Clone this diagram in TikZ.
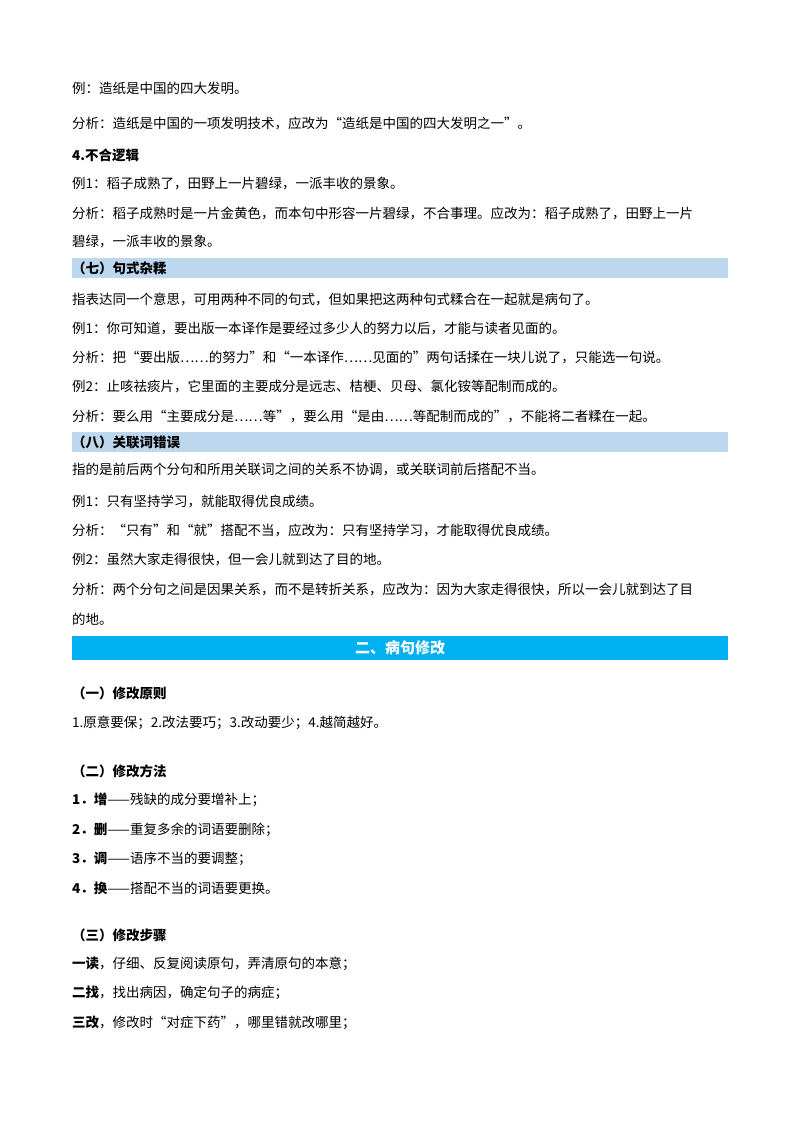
\documentclass[tikz,border=0pt]{standalone}
\usepackage{fontspec}
\setmainfont{Noto Sans CJK SC}
\begin{document}
\begin{tikzpicture}[x=1pt,y=-1pt,
  t/.style={anchor=west,inner sep=0pt,font=\fontsize{13.5}{16}\selectfont},
  b/.style={t,font=\fontsize{13.5}{16}\selectfont\bfseries},
  band/.style={fill=blue!10!cyan!20!white}]
\useasboundingbox[fill=white] (0,0) rectangle (800,1132);
\definecolor{lb}{HTML}{BDD7EE}
\definecolor{cy}{HTML}{00B0F0}
\node[t] (l1) at (72,88) {例：造纸是中国的四大发明。};
\node[t] (l2) at (72,123) {分析：造纸是中国的一项发明技术，应改为“造纸是中国的四大发明之一”。};
\node[b] (l3) at (72,155) {4.不合逻辑};
\node[t] (l4) at (72,184) {例1：稻子成熟了，田野上一片碧绿，一派丰收的景象。};
\node[t] (l5) at (72,213) {分析：稻子成熟时是一片金黄色，而本句中形容一片碧绿，不合事理。应改为：稻子成熟了，田野上一片};
\node[t] (l6) at (72,242) {碧绿，一派丰收的景象。};
\fill[lb] (72,258) rectangle (728,278);
\node[b] (h7) at (72,268) {（七）句式杂糅};
\node[t] (l7) at (72,299) {指表达同一个意思，可用两种不同的句式，但如果把这两种句式糅合在一起就是病句了。};
\node[t] (l8) at (72,329) {例1：你可知道，要出版一本译作是要经过多少人的努力以后，才能与读者见面的。};
\node[t] (l9) at (72,358) {分析：把“要出版……的努力”和“一本译作……见面的”两句话揉在一块儿说了，只能选一句说。};
\node[t] (l10) at (72,387) {例2：止咳祛痰片，它里面的主要成分是远志、桔梗、贝母、氯化铵等配制而成的。};
\node[t] (l11) at (72,416) {分析：要么用“主要成分是……等”，要么用“是由……等配制而成的”，不能将二者糅在一起。};
\fill[lb] (72,432) rectangle (728,452);
\node[b] (h8) at (72,442) {（八）关联词错误};
\node[t] (l12) at (72,470) {指的是前后两个分句和所用关联词之间的关系不协调，或关联词前后搭配不当。};
\node[t] (l13) at (72,501) {例1：只有坚持学习，就能取得优良成绩。};
\node[t] (l14) at (72,530) {分析：“只有”和“就”搭配不当，应改为：只有坚持学习，才能取得优良成绩。};
\node[t] (l15) at (72,559) {例2：虽然大家走得很快，但一会儿就到达了目的地。};
\node[t] (l16) at (72,589) {分析：两个分句之间是因果关系，而不是转折关系，应改为：因为大家走得很快，所以一会儿就到达了目};
\node[t] (l17) at (72,619) {的地。};
\fill[cy] (72,636) rectangle (728,660);
\node[inner sep=0pt,text=white,font=\fontsize{15}{18}\selectfont\bfseries] (h2) at (400,648) {二、病句修改};
\node[b] (s1) at (72,693) {（一）修改原则};
\node[t] (m1) at (72,723) {1.原意要保；2.改法要巧；3.改动要少；4.越简越好。};
\node[b] (s2) at (72,771) {（二）修改方法};
\node[t] (m2) at (72,800) {\textbf{1．增}——残缺的成分要增补上；};
\node[t] (m3) at (72,830) {\textbf{2．删}——重复多余的词语要删除；};
\node[t] (m4) at (72,859) {\textbf{3．调}——语序不当的要调整；};
\node[t] (m5) at (72,888) {\textbf{4．换}——搭配不当的词语要更换。};
\node[b] (s3) at (72,935) {（三）修改步骤};
\node[t] (m6) at (72,964) {\textbf{一读}，仔细、反复阅读原句，弄清原句的本意；};
\node[t] (m7) at (72,993) {\textbf{二找}，找出病因，确定句子的病症；};
\node[t] (m8) at (72,1023) {\textbf{三改}，修改时“对症下药”，哪里错就改哪里；};
\end{tikzpicture}
\end{document}
